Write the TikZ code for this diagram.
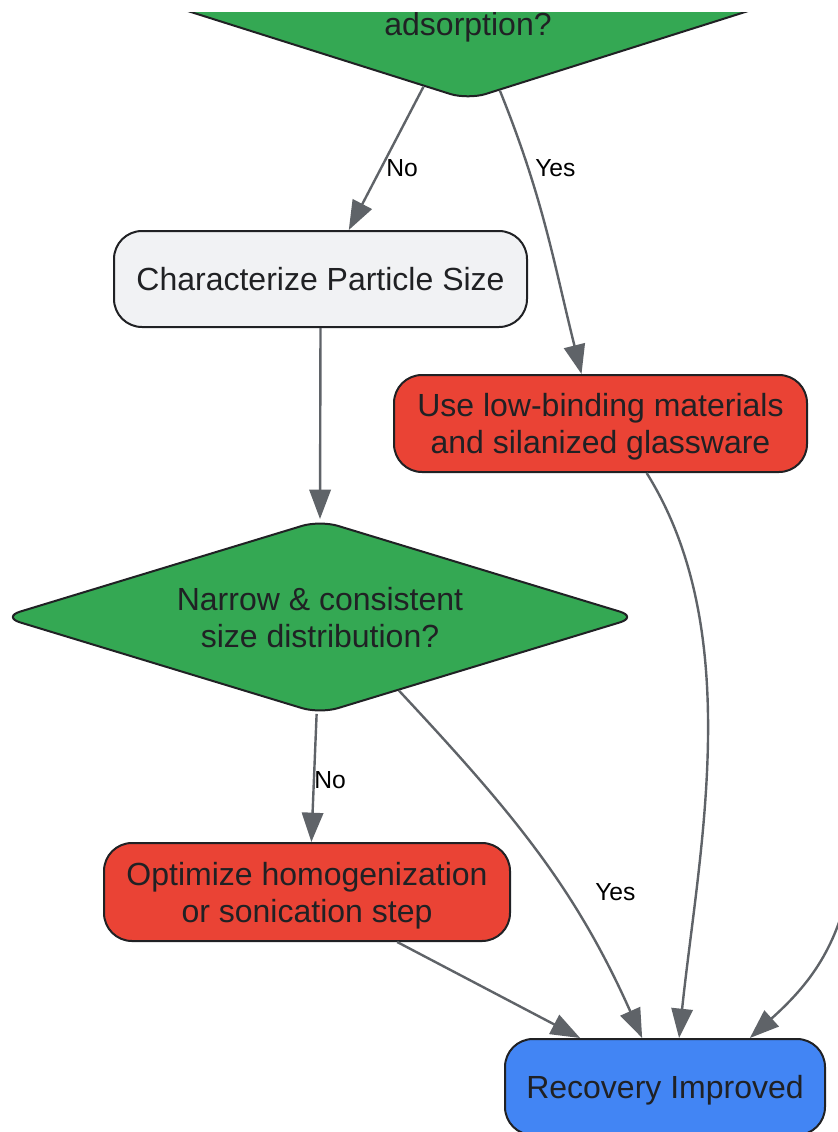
\documentclass[tikz,border=0pt]{standalone}
\usepackage{fontspec}
\setmainfont{Liberation Sans}
\usepackage{xcolor}
\usetikzlibrary{shapes.geometric,arrows.meta}

\definecolor{decgreen}{RGB}{52,168,83}
\definecolor{failred}{RGB}{234,67,53}
\definecolor{okblue}{RGB}{66,133,244}
\definecolor{stepgray}{RGB}{241,242,244}
\definecolor{edgegray}{RGB}{95,99,104}
\definecolor{inkdark}{RGB}{32,33,36}

\begin{document}
\begin{tikzpicture}[x=0.75pt,y=0.75pt,yscale=-1,xscale=1,
  boxnode/.style={draw=inkdark,line width=1.5pt,rounded corners=21pt,align=center,
    text=inkdark,font=\fontsize{24pt}{27.75pt}\selectfont,inner sep=0pt,text depth=0pt},
  decnode/.style={diamond,aspect=3.2,draw=inkdark,line width=1.5pt,rounded corners=14pt,
    fill=decgreen,align=center,text=inkdark,inner sep=0pt,
    font=\fontsize{24pt}{27.75pt}\selectfont},
  flow/.style={draw=edgegray,line width=1.8pt,-{Triangle[length=22pt,width=16pt]}},
  lbl/.style={anchor=west,inner sep=0pt,text=black,font=\fontsize{18.5pt}{22pt}\selectfont}]
\useasboundingbox (0,0) rectangle (838,1132);
\clip (0,12) rectangle (838,1132);

%Shape: Diamond [top, only its lower part shows]
\node [decnode,minimum width=459pt,minimum height=145.5pt] (adsq) at (468,3) {};
% Text Node
\node [text=inkdark,inner sep=0pt,font=\fontsize{24pt}{27.75pt}\selectfont] (adsqtxt) at (468,27) {adsorption?};

%Shape: Rectangle
\node [boxnode,fill=stepgray,minimum width=309.75pt,minimum height=72pt] (charsize) at (320.5,279) {Characterize Particle Size};
%Shape: Rectangle
\node [boxnode,fill=failred,minimum width=309.75pt,minimum height=72.75pt] (lowbind) at (600.5,423.5) {Use low-binding materials\\and silanized glassware};
%Shape: Diamond
\node [decnode,minimum width=477pt,minimum height=145.5pt,text depth=0pt] (narrow) at (320,617) {Narrow \& consistent\\size distribution?};
%Shape: Rectangle
\node [boxnode,fill=failred,minimum width=304.5pt,minimum height=73.5pt] (optim) at (307,892) {Optimize homogenization\\or sonication step};
%Shape: Rectangle
\node [boxnode,fill=okblue,minimum width=240pt,minimum height=72pt] (recov) at (665,1087) {Recovery Improved};

% free end of the edge that comes in from the right
\coordinate (rightsrc) at (850,880);

%Straight Lines
\draw [flow] (adsq.242) -- (charsize.60);
\draw [flow] (charsize.south) -- (narrow.north);
\draw [flow] (narrow.-92) -- (optim.85);
\draw [flow] (optim.-29) -- (recov.150);
%Curve Lines
\draw [flow] (adsq.-70) to[out=68,in=-104] (lowbind.111);
\draw [flow] (narrow.-43) to[out=47,in=-114] (recov.115);
\draw [flow] (lowbind.-47) to[out=58,in=-84,looseness=0.85] (recov.74);
\draw [flow] (rightsrc) to[out=100,in=-42] (recov.30);

% Text Node
\node [lbl] (lblno1) at (386,168) {No};
% Text Node
\node [lbl] (lblyes1) at (535,168) {Yes};
% Text Node
\node [lbl] (lblno2) at (314,780) {No};
% Text Node
\node [lbl] (lblyes2) at (595,892) {Yes};

\end{tikzpicture}
\end{document}
